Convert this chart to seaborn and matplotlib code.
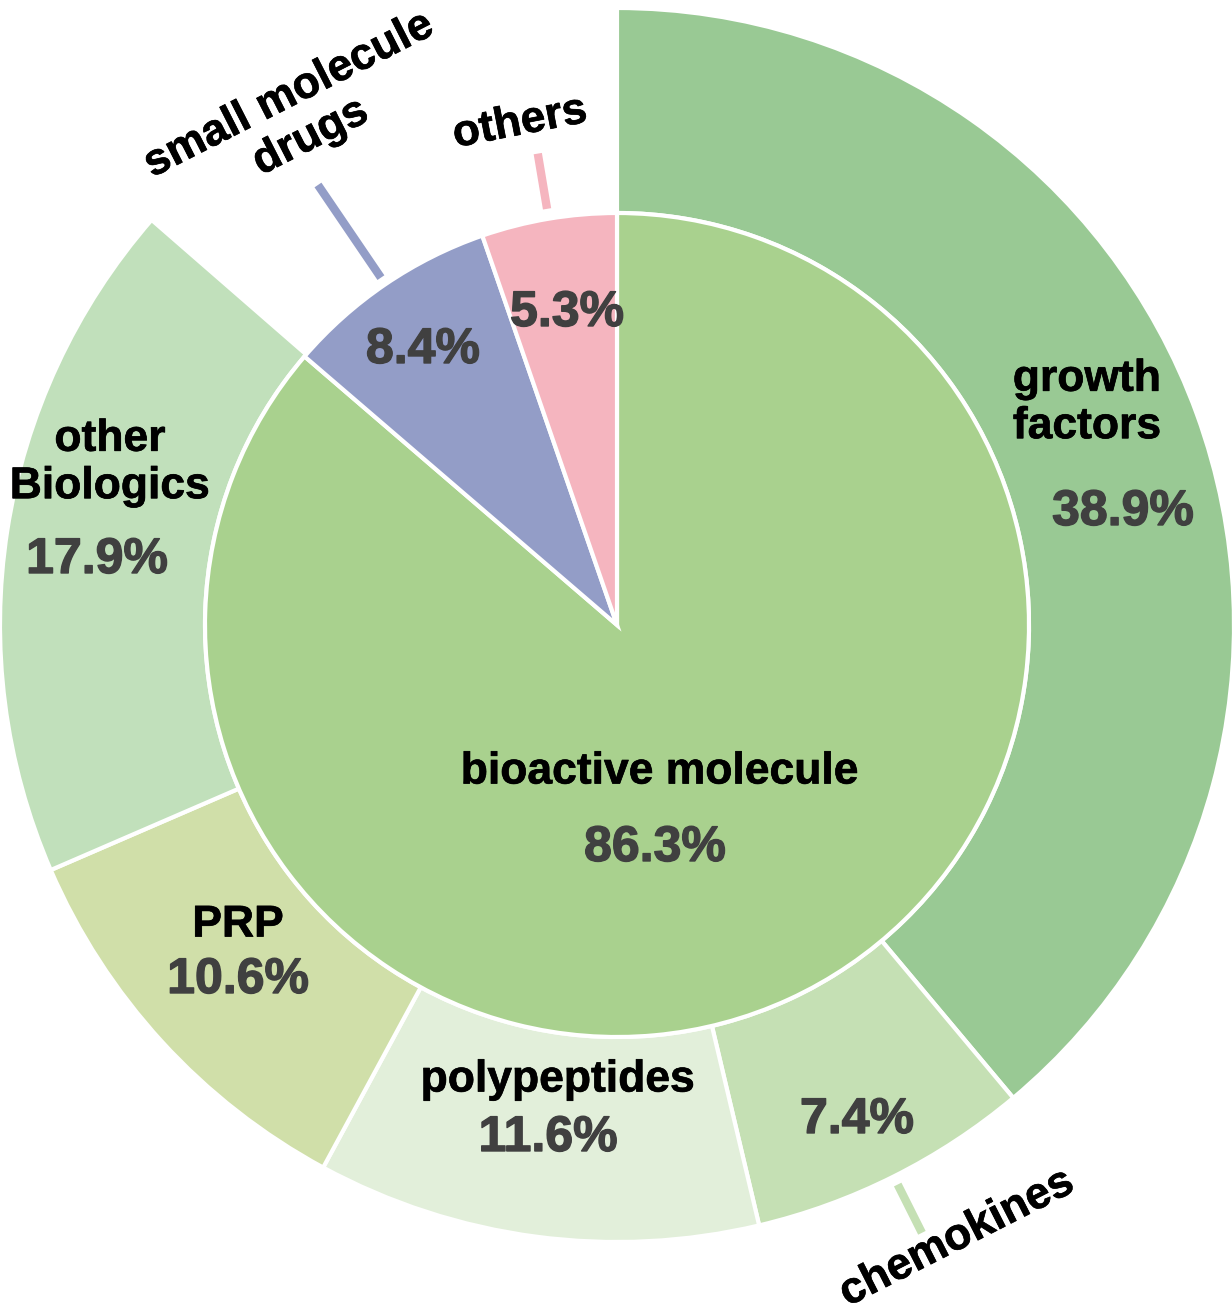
import numpy as np
import seaborn as sns
import matplotlib.pyplot as plt
import matplotlib.patheffects as pe

sns.set_theme(style="white")
plt.rcParams["font.family"] = ["Liberation Sans", "DejaVu Sans"]

# inner pie (clockwise from top)
inner_names = ["bioactive molecule", "small molecule drugs", "others"]
inner_vals = [86.3, 8.4, 5.3]
inner_colors = ["#A9D18E", "#939DC7", "#F5B5BF"]

# outer ring, only over the bioactive molecule part
outer_names = ["growth factors", "chemokines", "polypeptides", "PRP", "other Biologics"]
outer_vals = [38.9, 7.4, 11.6, 10.6, 17.9]
outer_colors = ["#99C994", "#C5E0B4", "#E2EFDA", "#D0DFA9", "#C1E0BB"]

W, H, CX, CY, R = 1232, 1316, 617, 625, 617
R_IN = 412 / R


def px(x, y):
    return (x - CX) / R, (CY - y) / R


fig = plt.figure(figsize=(W / 100, H / 100), dpi=100)
ax = fig.add_axes([0, 0, 1, 1])

wp = dict(edgecolor="white", linewidth=3)
gap = 100 - sum(outer_vals)
ow, _ = ax.pie(outer_vals + [gap], radius=1, startangle=90, counterclock=False,
               colors=outer_colors + ["white"], wedgeprops=dict(width=1 - R_IN, **wp))
ow[-1].set_visible(False)
iw, _ = ax.pie(inner_vals, radius=R_IN, startangle=90, counterclock=False,
               colors=inner_colors, wedgeprops=wp)

ax.set_xlim(-CX / R, (W - CX) / R)
ax.set_ylim(-(H - CY) / R, CY / R)
ax.set_aspect("equal")
ax.axis("off")

name_kw = dict(fontsize=32, fontweight="bold", color="black", ha="center", va="center",
               path_effects=[pe.withStroke(linewidth=0.5, foreground="black")])
pct_kw = dict(fontsize=36, fontweight="bold", color="#404040", ha="center", va="center",
              path_effects=[pe.withStroke(linewidth=1.0, foreground="#404040")])

# labels inside wedges
ax.text(*px(660, 772), "bioactive molecule", **name_kw)
ax.text(*px(655, 848), f"{inner_vals[0]}%", **pct_kw)
ax.text(*px(1087, 403), "growth\nfactors", **name_kw)
ax.text(*px(1123, 512), f"{outer_vals[0]}%", **pct_kw)
ax.text(*px(110, 463), "other\nBiologics", **name_kw)
ax.text(*px(97, 560), f"{outer_vals[4]}%", **pct_kw)
ax.text(*px(238, 925), "PRP", **name_kw)
ax.text(*px(238, 980), f"{outer_vals[3]}%", **pct_kw)
ax.text(*px(558, 1080), "polypeptides", **name_kw)
ax.text(*px(548, 1138), f"{outer_vals[2]}%", **pct_kw)
ax.text(*px(857, 1120), f"{outer_vals[1]}%", **pct_kw)
ax.text(*px(423, 350), f"{inner_vals[1]}%", **pct_kw)
ax.text(*px(567, 313), f"{inner_vals[2]}%", **pct_kw)


# radial leader lines from wedge mid-angles
def leader(w, r0, r1, color):
    a = np.deg2rad((w.theta1 + w.theta2) / 2)
    ax.plot([r0 * np.cos(a), r1 * np.cos(a)], [r0 * np.sin(a), r1 * np.sin(a)],
            color=color, lw=6, solid_capstyle="butt")


leader(iw[1], 420 / R, 532 / R, inner_colors[1])
leader(iw[2], 422 / R, 478 / R, inner_colors[2])
leader(ow[1], 626 / R, 680 / R, outer_colors[1])

ax.text(*px(300, 116), "small molecule\ndrugs", rotation=27, rotation_mode="anchor", **name_kw)
ax.text(*px(520, 123), "others", rotation=11, rotation_mode="anchor", **name_kw)
ax.text(*px(957, 1238), "chemokines", rotation=27, rotation_mode="anchor", **name_kw)

fig.savefig("out.png", dpi=100)
